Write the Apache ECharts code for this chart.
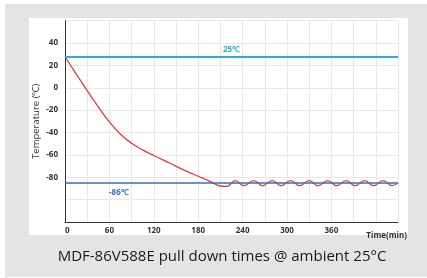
<!DOCTYPE html>
<html>
<head>
<meta charset="utf-8">
<script src="https://cdn.jsdelivr.net/npm/echarts@6/dist/echarts.min.js"></script>
<style>
  html, body { margin: 0; padding: 0; background: #fff; }
  #chart { width: 427px; height: 278px; }
</style>
</head>
<body>
<div id="chart"></div>
<script>
// pull-down curve (minutes, degrees C)
var times = [0, 15, 30, 45, 60, 75, 90, 105, 120, 142, 164, 187, 200, 210, 218, 224,
             230, 242, 255, 267, 280, 292, 305, 317, 330, 342, 355, 367, 380, 392, 405, 417, 430, 442, 450];
var temps = [28, 12.5, -2.5, -17, -30.5, -41.5, -49.5, -55.5, -60.5, -67.5, -74.5, -81, -85, -87.8, -88.2, -86,
             -83, -87.5, -83, -87.5, -83, -87.5, -83, -87.5, -83, -87.5, -83, -87.5, -83, -87.5, -83, -87.5, -83, -87.5, -85];
var ambientLine = 28;
var setLine = -85;
var yLabels = [40, 20, 0, -20, -40, -60, -80];
var xLabels = [0, 60, 120, 180, 240, 300, 360];

var chart = echarts.init(document.getElementById("chart"));
var pts = times.map(function (t, i) { return [t, temps[i]]; });

chart.setOption({
    animation: false,
    textStyle: { fontFamily: "Open Sans" },
    grid: { left: 65, top: 20.7, right: 29, bottom: 56 },
    graphic: [
        { type: "rect", shape: { x: 5, y: 4, width: 422, height: 273 }, style: { fill: "#e4e4e4" }, z: -10 },
        { type: "rect", shape: { x: 29, y: 18, width: 379, height: 217 }, style: { fill: "#ffffff" }, z: -9 },
        { type: "text", x: 222, y: 257, style: { text: "MDF-86V588E pull down times @ ambient 25°C", fill: "#1a1a1a",
            font: "15px 'Open Sans'", textAlign: "center", textVerticalAlign: "middle" } }
    ],
    xAxis: {
        type: "value", min: 0, max: 450, interval: 30,
        name: "Time(min)", nameLocation: "end", nameGap: 9,
        nameTextStyle: { align: "right", verticalAlign: "top", padding: [10, 0, 0, 0], fontSize: 8, fontWeight: "bold", color: "#333" },
        axisLine: { onZero: false, lineStyle: { color: "#333", width: 1 } },
        axisTick: { show: false },
        axisLabel: {
            fontSize: 8, fontWeight: "bold", color: "#333", margin: 5, alignMinLabel: "left",
            formatter: function (v) { return xLabels.indexOf(v) >= 0 ? String(v) : ""; }
        },
        splitLine: { lineStyle: { color: "#e8e8e8" } }
    },
    yAxis: {
        type: "value", min: -120, max: 60, interval: 20,
        name: "Temperature (℃)", nameLocation: "middle", nameGap: 24, nameMoveOverlap: false,
        nameTextStyle: { fontSize: 9.5, color: "#333" },
        axisLine: { show: true, onZero: false, lineStyle: { color: "#333", width: 1 } },
        axisTick: { show: false },
        axisLabel: {
            fontSize: 8, fontWeight: "bold", color: "#333", margin: 7, padding: [0, 0, 4, 0],
            formatter: function (v) { return yLabels.indexOf(v) >= 0 ? String(v) : ""; }
        },
        splitLine: { lineStyle: { color: "#e8e8e8" } }
    },
    series: [
        {
            type: "line", data: [], silent: true,
            markLine: {
                symbol: "none", silent: true, animation: false,
                data: [
                    { yAxis: ambientLine, lineStyle: { color: "#33a9dc", width: 2, type: "solid" },
                      label: { formatter: "25℃", position: "insideMiddleTop", distance: 3, color: "#33a9dc", fontSize: 8, fontWeight: "bold" } },
                    { yAxis: setLine, lineStyle: { color: "#2f6fc0", width: 1.5, type: "solid" },
                      label: { formatter: "-86℃", position: "insideStartBottom", distance: [44, 6], color: "#2f6fc0", fontSize: 8, fontWeight: "bold" } }
                ]
            }
        },
        {
            type: "line", data: pts, smooth: 0.5, symbol: "none",
            lineStyle: { color: "#e8383d", width: 1.3 }
        }
    ]
});
</script>
</body>
</html>
